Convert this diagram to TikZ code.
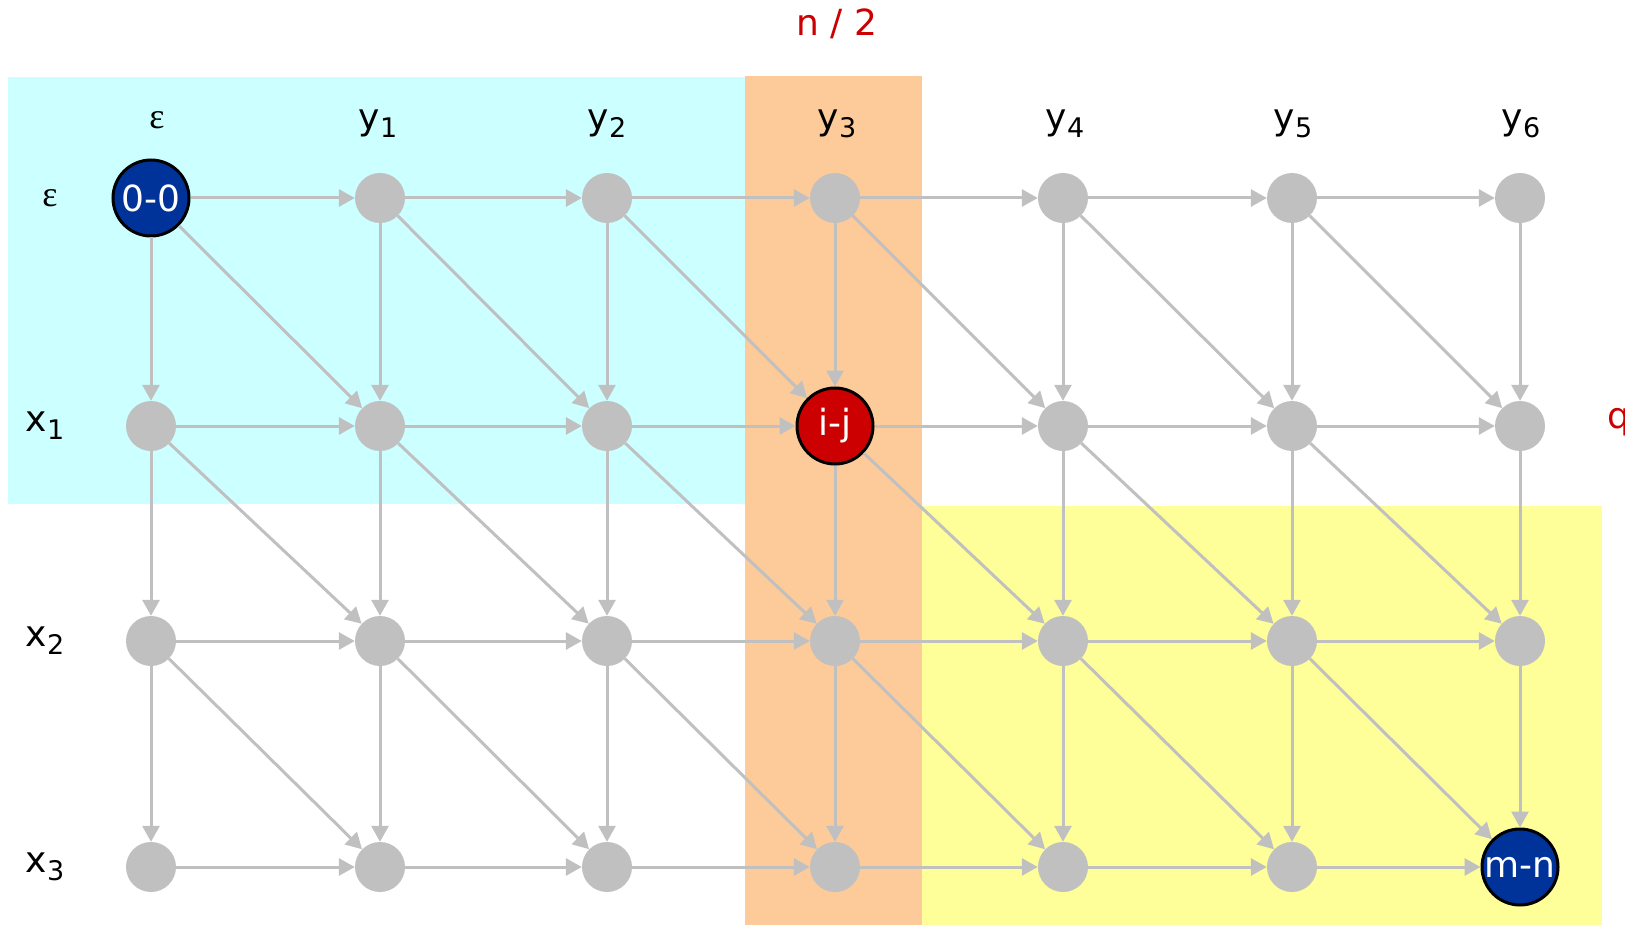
\documentclass[tikz,border=0pt]{standalone}
\usepackage{fontspec}
\setmainfont{DejaVu Sans}
\newfontfamily\epsfont{Liberation Serif}
\usetikzlibrary{arrows.meta}
\definecolor{bgcyan}{HTML}{CCFFFF}
\definecolor{bgorange}{HTML}{FCCB99}
\definecolor{bgyellow}{HTML}{FFFF99}
\definecolor{dotgray}{HTML}{C0C0C0}
\definecolor{nblue}{HTML}{003399}
\definecolor{nred}{HTML}{CC0000}
\definecolor{lblred}{HTML}{CC0000}
\newcommand{\lbl}{\fontsize{36}{40}\selectfont}
\newcommand{\subsc}[1]{\raisebox{-0.22em}{\fontsize{27}{30}\selectfont #1}}
\tikzset{
  dot/.style={circle, fill=dotgray, minimum size=50, inner sep=0},
  bignode/.style={circle, draw=black, line width=3, minimum size=76, inner sep=0, text=white, font=\lbl},
  edge/.style={draw=dotgray, line width=3, -{Triangle[length=16,width=17]}},
  head/.style={font=\lbl, inner sep=0, text=black},
  redlbl/.style={font=\lbl, inner sep=0, text=lblred}
}
\begin{document}
\begin{tikzpicture}[x=1pt,y=-1pt]
\useasboundingbox (0,0) rectangle (1625,925);
% backgrounds
\fill[bgcyan] (8,77) rectangle (745,504);
\fill[bgyellow] (745,506) rectangle (1602,925);
\fill[bgorange] (745,76) rectangle (922,925);
% headers
\node[head] (e0) at (157,120) {\epsfont ε};
\node[head] (hy1) at (378,124) {y\subsc{1}};
\node[head] (hy2) at (607,124) {y\subsc{2}};
\node[head] (hy3) at (837,124) {y\subsc{3}};
\node[head] (hy4) at (1065,124) {y\subsc{4}};
\node[head] (hy5) at (1293,124) {y\subsc{5}};
\node[head] (hy6) at (1521,124) {y\subsc{6}};
\node[head] (e1) at (50,198) {\epsfont ε};
\node[head] (hx1) at (45,426) {x\subsc{1}};
\node[head] (hx2) at (45,641) {x\subsc{2}};
\node[head] (hx3) at (45,867) {x\subsc{3}};
\node[redlbl] (half) at (837,24) {n / 2};
\node[redlbl, anchor=base west] (qq) at (1607,428) {q};
% grid nodes
\foreach \r/\y in {0/198,1/426,2/641,3/867}{
  \foreach \c/\x in {0/151,1/380,2/607,3/835,4/1063,5/1292,6/1520}{
    \pgfmathtruncatemacro{\k}{10*\r+\c}
    \ifnum\k=0
      \node[bignode, fill=nblue] (n\r\c) at (\x,\y) {0-0};
    \else\ifnum\k=13
      \node[bignode, fill=nred] (n\r\c) at (\x,\y) {i-j};
    \else\ifnum\k=36
      \node[bignode, fill=nblue] (n\r\c) at (\x,\y) {m-n};
    \else
      \node[dot] (n\r\c) at (\x,\y) {};
    \fi\fi\fi
  }
}
% edges
\foreach \r in {0,1,2,3}{
  \foreach \c in {0,1,2,3,4,5,6}{
    \pgfmathtruncatemacro{\rn}{\r+1}
    \pgfmathtruncatemacro{\cn}{\c+1}
    \ifnum\c<6 \draw[edge] (n\r\c) -- (n\r\cn); \fi
    \ifnum\r<3 \draw[edge] (n\r\c) -- (n\rn\c); \fi
    \ifnum\r<3 \ifnum\c<6 \draw[edge] (n\r\c) -- (n\rn\cn); \fi\fi
  }
}
\end{tikzpicture}
\end{document}
